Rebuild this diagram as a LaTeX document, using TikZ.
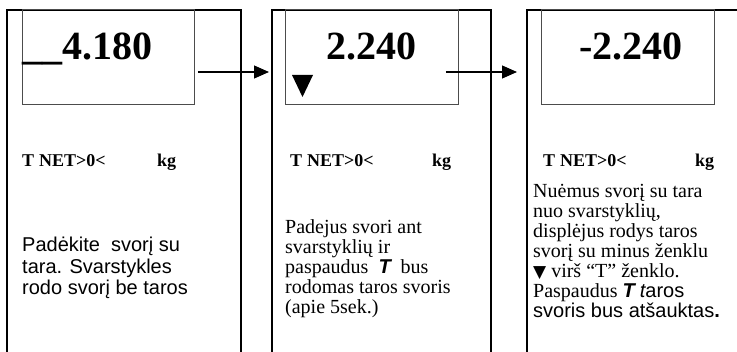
\documentclass[tikz,border=0pt]{standalone}
\usepackage{fontspec}
\setmainfont{Liberation Serif}
\setsansfont{Liberation Sans}
\newfontfamily\symfont{DejaVu Sans}
\usetikzlibrary{arrows.meta}
\usetikzlibrary{calc}

\tikzset{
  frame/.style = {line width = 2pt},
  display/.style = {draw = black!70, line width = 0.9pt, minimum width = 172pt,
    minimum height = 95pt, inner sep = 0pt, anchor = north west},
  value/.style = {font = \bfseries\fontsize{40}{40}\selectfont, inner sep = 0pt},
  status/.style = {font = \bfseries\fontsize{18}{18}\selectfont, inner sep = 0pt,
    anchor = base west},
  note/.style = {align = left, inner sep = 0pt, anchor = north west},
  flow/.style = {line width = 1.2pt, -{Triangle[length = 15pt, width = 13pt]},
    shorten <= 3pt, shorten >= 3pt}
}

\begin{document}
\begin{tikzpicture}[x = 1pt, y = -1pt]
  \useasboundingbox (0, 0) rectangle (737, 352);

  % outer frames, open at the bottom
  \foreach \l/\r in {7/241, 272/491}{
    \draw[frame] (\l, 352) -- (\l, 10) -- (\r, 10) -- (\r, 352);
  }
  \draw[frame] (527, 352) -- (527, 10) -- (745, 10);

  % displays
  \node[display] (disp1) at (22, 9) {};
  \node[display, minimum width = 173pt] (disp2) at (285, 9) {};
  \node[display, minimum width = 173pt] (disp3) at (541, 9) {};

  \node[value, anchor = base west] (val1) at (22, 60) {\_\_4.180};
  \node[value, anchor = base] (val2) at (371, 60) {2.240};
  \node[value, anchor = base] (val3) at (631, 60) {-2.240};

  \fill (292, 75) -- (313, 75) -- (302.5, 97) -- cycle;

  % transitions
  \coordinate (in2) at (272, 72);
  \coordinate (in3) at (527, 72);
  \draw[flow] (disp1.east |- in2) -- (in2);
  \draw[flow, shorten <= -13pt, shorten >= 10pt] (disp2.east |- in3) -- (in3);

  % status line
  \foreach \x/\k [count = \i] in {22/157, 290/432, 543/695}{
    \node[status] (tare\i) at (\x, 167) {T};
    \node[status] (net\i) at (\x + 17, 167) {NET};
    \node[status] (zero\i) at (\x + 54, 167) {>0<};
    \node[status] (kg\i) at (\k, 167) {kg};
  }

  % explanations
  \node[note, font = \sffamily\fontsize{20}{21.5}\selectfont] (note1) at (22, 237)
  {Padėkite\ \ svorį su\\tara. Svarstykles\\rodo svorį be taros};

  \node[note, font = \fontsize{20}{20}\selectfont] (note2) at (285, 219)
  {Padejus svori ant\\svarstyklių ir\\paspaudus\ \ {\sffamily\bfseries\itshape T}\ \ bus\\
    rodomas taros svoris\\(apie 5sek.)};

  \node[note, font = \fontsize{20}{20}\selectfont] (note3) at (533, 184)
  {Nuėmus svorį su tara\\nuo svarstyklių,\\displėjus rodys taros\\
    svorį su minus ženklu\\{\symfont\fontsize{17}{17}\selectfont ▼} virš “T” ženklo.\\
    Paspaudus {\sffamily\bfseries\itshape T} {\sffamily\itshape t}{\sffamily aros}\\
    {\sffamily svoris bus atšauktas\textbf{.}}};
\end{tikzpicture}
\end{document}
